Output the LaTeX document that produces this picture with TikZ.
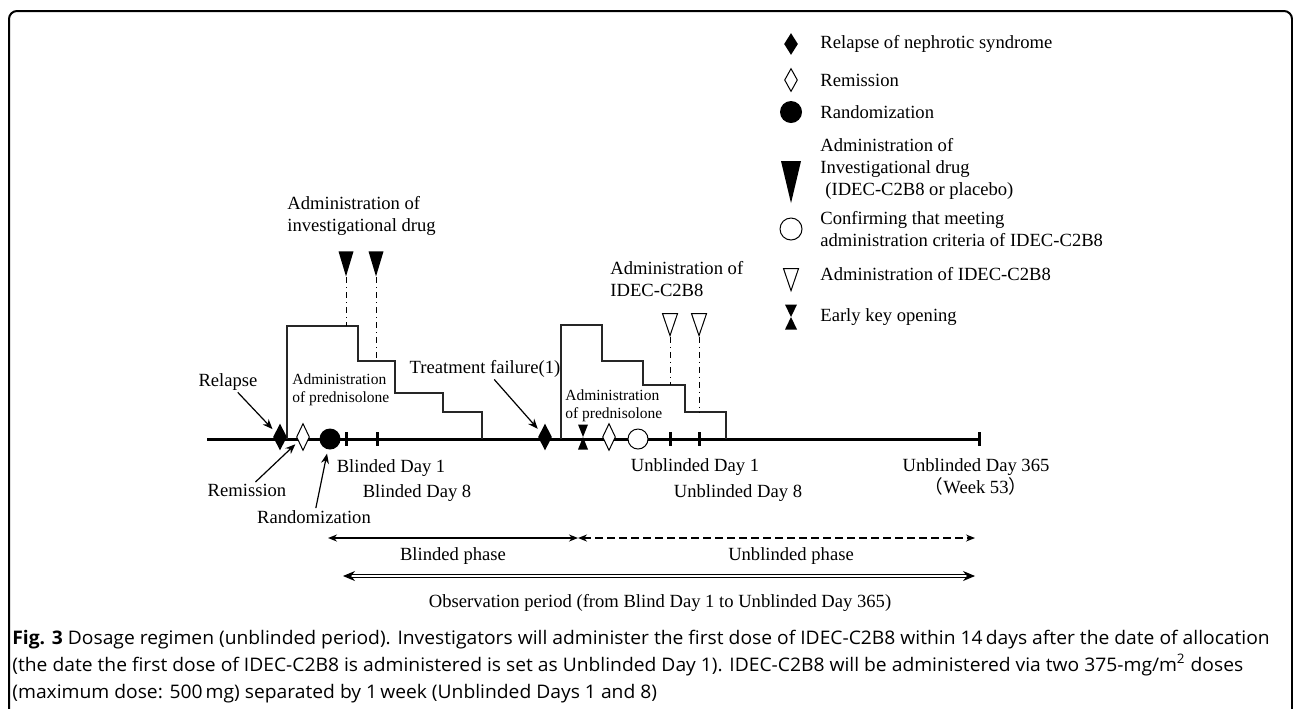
\documentclass[tikz,border=0pt]{standalone}
\usepackage{fontspec}
\setmainfont{Liberation Serif}
\newfontfamily\capfont[FakeStretch=1.03]{Open Sans}
\newfontfamily\cjk{Noto Sans CJK JP}
\usetikzlibrary{arrows.meta,shapes.geometric,positioning}

\tikzset{
  lbl/.style={font=\fontsize{9.3}{10.8}\selectfont, inner sep=0pt, align=left},
  sml/.style={font=\fontsize{7.75}{8.8}\selectfont, inner sep=0pt, align=left},
  capline/.style={font=\capfont\fontsize{9.35}{12}\selectfont, inner sep=0pt, anchor=base west},
  timeline/.style={line width=1.5pt},
  stepline/.style={line width=0.6pt, black!85},
  dosemark/.style={line width=0.5pt, dash dot},
  ptr/.style={line width=0.6pt, -{Stealth[length=5pt,width=4pt]}, shorten >=2pt, shorten <=1pt},
  phase/.style={line width=1pt, {Stealth[length=4.5pt,width=3.5pt]}-{Stealth[length=4.5pt,width=3.5pt]}},
  obs/.style={double, double distance=1.2pt, line width=0.5pt, {Stealth[length=6pt,width=5pt]}-{Stealth[length=6pt,width=5pt]}},
  relapse/.style={diamond, fill=black, inner sep=0pt, minimum width=7pt, minimum height=13.5pt},
  remit/.style={diamond, draw, fill=white, line width=0.5pt, inner sep=0pt, minimum width=6.5pt, minimum height=13.5pt},
  rando/.style={circle, fill=black, inner sep=0pt, minimum size=10.5pt},
  confirm/.style={circle, draw, fill=white, line width=0.5pt, inner sep=0pt, minimum size=10pt},
  drug/.style={isosceles triangle, isosceles triangle stretches, shape border rotate=270,
    fill=black, inner sep=0pt, minimum width=7.5pt, minimum height=12.5pt},
  rtx/.style={drug, fill=white, draw, line width=0.5pt, minimum height=11pt},
  keyopen/.pic={\fill (-5,-12.5) -- (5,-12.5) -- (-5,12.5) -- (5,12.5) -- cycle;}
}

\begin{document}
\begin{tikzpicture}[x=0.5pt, y=-0.5pt]
  \useasboundingbox (0,0) rectangle (1293,708);
  \draw[line width=1pt, rounded corners=4pt] (9,11) rectangle (1292,760);

  % Legend
  \node[relapse, minimum height=11pt] (lg1) at (791,44) {};
  \node[remit, minimum height=11.5pt] (lg2) at (791,80) {};
  \node[rando, minimum size=11pt] (lg3) at (791,112) {};
  \node[drug, minimum width=10pt, minimum height=21pt] (lg4) at (791,169) {};
  \node[confirm, minimum size=11pt] (lg5) at (791,229) {};
  \node[rtx] (lg6) at (791,274) {};
  \coordinate (lg7) at (791,317);
  \pic[xscale=1.2] at (lg7) {keyopen};
  \node[lbl, right=14.5pt of lg1.center] (tx1) {Relapse of nephrotic syndrome};
  \node[lbl, right=14.5pt of lg2.center] (tx2) {Remission};
  \node[lbl, right=14.5pt of lg3.center] (tx3) {Randomization};
  \node[lbl, right=14.5pt of lg4.center] (tx4) {Administration of\\Investigational drug\\\hspace*{2.5pt}(IDEC-C2B8 or placebo)};
  \node[lbl, right=14.5pt of lg5.center] (tx5) {Confirming that meeting\\administration criteria of IDEC-C2B8};
  \node[lbl, right=14.5pt of lg6.center] (tx6) {Administration of IDEC-C2B8};
  \node[lbl, right=14.5pt of lg7] (tx7) {Early key opening};

  % Time axis
  \draw[timeline] (207,439) -- (979,439);
  \foreach \t in {346,377,670,699,979}
    \draw[timeline] (\t,432) -- (\t,446);

  % Prednisolone tapering
  \draw[stepline] (287,439) |- (358,326) |- (395,361) |- (443,393) |- (482,412) -- (482,439);
  \draw[stepline] (561,439) |- (602,325) |- (643,361) |- (685,385) |- (726,412) -- (726,439);
  \node[sml, anchor=west] (pred1) at (292,390) {Administration\\of prednisolone};
  \node[sml, anchor=west] (pred2) at (565,406) {Administration\\of prednisolone};

  % Events on the axis
  \node[relapse] (rel1) at (280,437) {};
  \node[remit] (rem1) at (303,437) {};
  \node[rando] (rnd) at (330,439) {};
  \node[relapse] (rel2) at (545,437) {};
  \pic at (583,437) {keyopen};
  \node[remit] (rem2) at (609,437) {};
  \node[confirm] (conf) at (638,439) {};

  % Doses
  \node[drug] (dr1) at (346,257) {};
  \node[drug] (dr2) at (376,257) {};
  \node[rtx] (rx1) at (670,319) {};
  \node[rtx] (rx2) at (699,319) {};
  \draw[dosemark] (dr1.apex) -- (346,326);
  \draw[dosemark] (dr2.apex) -- (376,361);
  \draw[dosemark] (rx1.apex) -- (670,385);
  \draw[dosemark] (rx2.apex) -- (699,412);
  \node[lbl, anchor=west] (tdrug) at (287,216) {Administration of\\investigational drug};
  \node[lbl, anchor=west] (trtx) at (610,279) {Administration of\\IDEC-C2B8};

  % Event labels
  \node[lbl] (lrel) at (228,382) {Relapse};
  \node[lbl] (lrem) at (247,490) {Remission};
  \node[lbl] (lrnd) at (314,517) {Randomization};
  \node[lbl] (ltf) at (485,369) {Treatment failure(1)};
  \draw[ptr] (lrel) -- (rel1);
  \draw[ptr] (lrem) -- (rem1);
  \draw[ptr] (lrnd) -- (rnd);
  \draw[ptr] (ltf) -- (rel2);

  \node[lbl] (bd1) at (391,468) {Blinded Day 1};
  \node[lbl] (bd8) at (417,493) {Blinded Day 8};
  \node[lbl] (ud1) at (695,467) {Unblinded Day 1};
  \node[lbl] (ud8) at (738,493) {Unblinded Day 8};
  \node[lbl, align=center] (ud365) at (976,477) {Unblinded Day 365\\{\cjk （}Week 53{\cjk ）}};

  % Phases
  \coordinate (ph0) at (328,538);
  \coordinate (ph1) at (578,538);
  \coordinate (ph2) at (975,538);
  \draw[phase] (ph0) -- (ph1);
  \draw[phase, dash pattern=on 4pt off 2pt] (ph1) -- (ph2);
  \node[lbl] (tbl) at (453,556) {Blinded phase};
  \node[lbl] (tub) at (791,556) {Unblinded phase};
  \coordinate (ob0) at (343,576);
  \coordinate (ob1) at (975,576);
  \draw[obs] (ob0) -- (ob1);
  \node[lbl] (tobs) at (660,603) {Observation period (from Blind Day 1 to Unblinded Day 365)};

  % Caption
  \node[capline] (cap1) at (12,644) {\textbf{Fig. 3} Dosage regimen (unblinded period). Investigators will administer the first dose of IDEC-C2B8 within 14\,days after the date of allocation};
  \node[capline] (cap2) at (12,671) {(the date the first dose of IDEC-C2B8 is administered is set as Unblinded Day 1). IDEC-C2B8 will be administered via two 375-mg/m\textsuperscript{2} doses};
  \node[capline] (cap3) at (12,698) {(maximum dose: 500\,mg) separated by 1\,week (Unblinded Days 1 and 8)};
\end{tikzpicture}
\end{document}
